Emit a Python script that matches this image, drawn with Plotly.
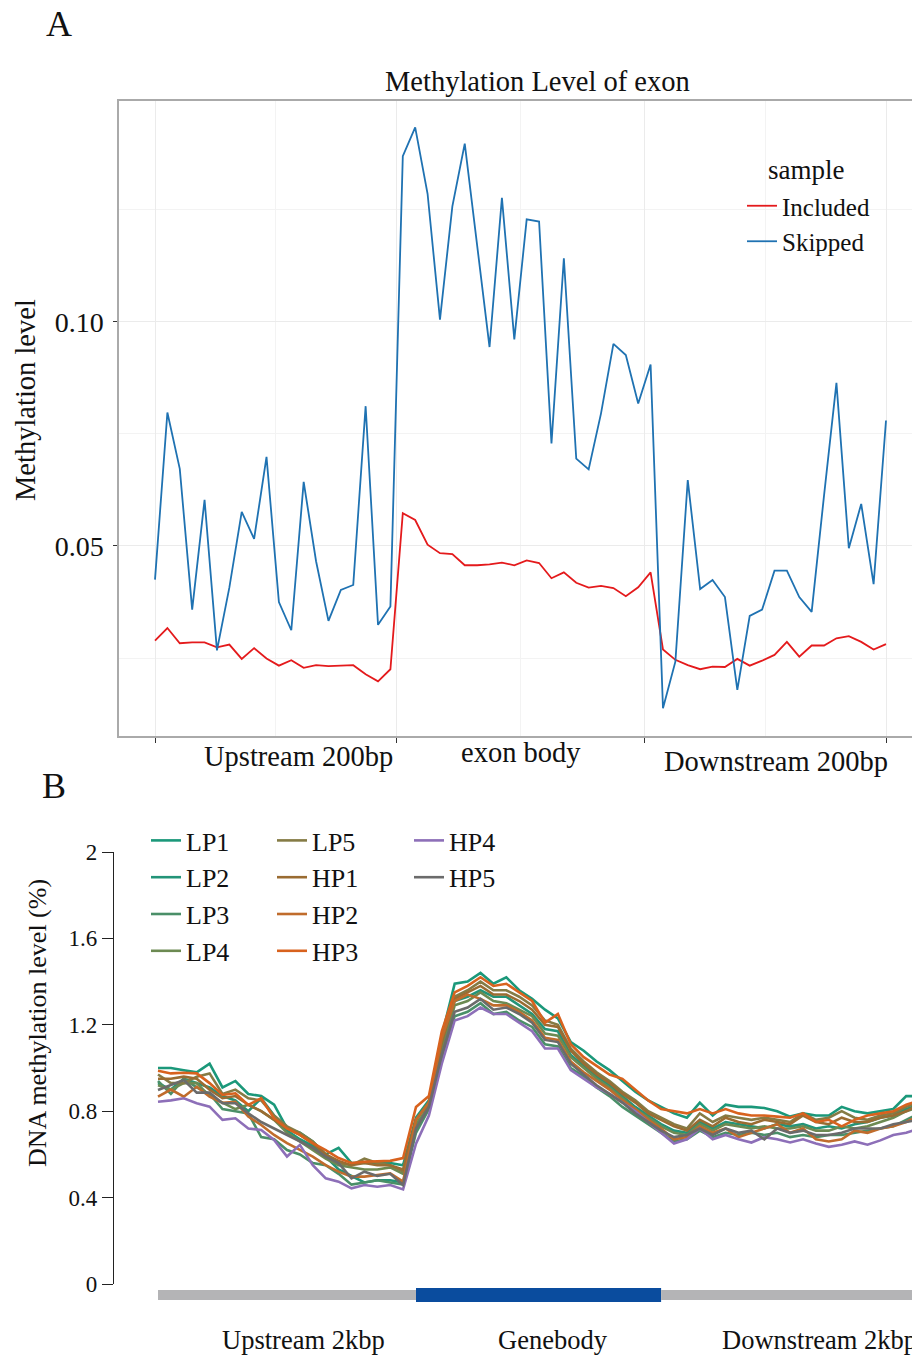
import plotly.graph_objects as go

# ---------------- Panel A data ----------------
bins_a = list(range(60))
included = [0.0289, 0.0317, 0.0283, 0.0285, 0.0285, 0.0274, 0.0280, 0.0248, 0.0272, 0.0249,
            0.0233, 0.0245, 0.0228, 0.0234, 0.0232, 0.0233, 0.0234, 0.0214, 0.0198, 0.0225,
            0.0573, 0.0558, 0.0503, 0.0484, 0.0482, 0.0457, 0.0457, 0.0459, 0.0463, 0.0457,
            0.0468, 0.0462, 0.0428, 0.0441, 0.0418, 0.0407, 0.0411, 0.0406, 0.0388, 0.0408,
            0.0441, 0.0269, 0.0246, 0.0234, 0.0225, 0.0231, 0.0230, 0.0248, 0.0233, 0.0244,
            0.0257, 0.0286, 0.0253, 0.0278, 0.0278, 0.0294, 0.0299, 0.0286, 0.0269, 0.0281]
skipped = [0.0425, 0.0798, 0.0672, 0.0358, 0.0603, 0.0267, 0.0407, 0.0576, 0.0516, 0.0699,
           0.0375, 0.0312, 0.0643, 0.0466, 0.0333, 0.0402, 0.0413, 0.0812, 0.0324, 0.0365,
           0.1370, 0.1434, 0.1286, 0.1005, 0.1258, 0.1398, 0.1171, 0.0944, 0.1277, 0.0961,
           0.1229, 0.1224, 0.0729, 0.1142, 0.0695, 0.0671, 0.0796, 0.0951, 0.0926, 0.0818,
           0.0905, 0.0138, 0.0242, 0.0647, 0.0404, 0.0424, 0.0386, 0.0179, 0.0344, 0.0358,
           0.0445, 0.0445, 0.0386, 0.0353, 0.0613, 0.0864, 0.0495, 0.0594, 0.0415, 0.0780]
a_region_ticks = [0, 19.5, 39.5, 59]
a_region_mid = [9.75, 29.5, 49.25]
a_region_labels = ["Upstream 200bp", "exon body", "Downstream 200bp"]
a_yticks = [0.05, 0.10]
a_yticklabels = ["0.05", "0.10"]
a_yminor = [0.025, 0.075, 0.125]

# ---------------- Panel B data ----------------
bins_b = list(range(60))
LP1 = [1.00, 1.00, 0.99, 0.98, 1.02, 0.91, 0.94, 0.88, 0.87, 0.83, 0.72, 0.70, 0.66, 0.60, 0.63, 0.56, 0.56, 0.56, 0.56, 0.55,
       0.77, 0.85, 1.15, 1.39, 1.40, 1.44, 1.39, 1.42, 1.36, 1.32, 1.27, 1.23, 1.12, 1.08, 1.03, 0.99, 0.94, 0.89, 0.85, 0.82,
       0.79, 0.77, 0.84, 0.78, 0.83, 0.82, 0.82, 0.815, 0.80, 0.775, 0.79, 0.78, 0.78, 0.82, 0.80, 0.79, 0.80, 0.81, 0.87, 0.87]
LP2 = [0.93, 0.90, 0.95, 0.93, 0.91, 0.87, 0.85, 0.80, 0.86, 0.78, 0.71, 0.67, 0.64, 0.59, 0.53, 0.50, 0.47, 0.48, 0.48, 0.47,
       0.72, 0.83, 1.10, 1.31, 1.33, 1.36, 1.33, 1.33, 1.29, 1.25, 1.18, 1.17, 1.06, 1.01, 0.96, 0.92, 0.87, 0.82, 0.78, 0.74,
       0.71, 0.70, 0.75, 0.72, 0.75, 0.74, 0.73, 0.72, 0.74, 0.73, 0.74, 0.72, 0.73, 0.72, 0.74, 0.75, 0.77, 0.78, 0.81, 0.83]
LP3 = [0.94, 0.88, 0.95, 0.91, 0.88, 0.81, 0.80, 0.79, 0.68, 0.67, 0.62, 0.60, 0.56, 0.55, 0.51, 0.46, 0.47, 0.48, 0.47, 0.46,
       0.70, 0.81, 1.05, 1.24, 1.26, 1.30, 1.25, 1.26, 1.22, 1.19, 1.11, 1.10, 1.00, 0.96, 0.91, 0.87, 0.82, 0.78, 0.74, 0.70,
       0.66, 0.67, 0.71, 0.68, 0.70, 0.69, 0.70, 0.69, 0.70, 0.68, 0.69, 0.68, 0.69, 0.69, 0.70, 0.71, 0.72, 0.73, 0.76, 0.79]
LP4 = [0.92, 0.90, 0.93, 0.93, 0.87, 0.84, 0.81, 0.83, 0.80, 0.76, 0.70, 0.66, 0.62, 0.58, 0.55, 0.54, 0.53, 0.53, 0.54, 0.51,
       0.74, 0.82, 1.08, 1.29, 1.31, 1.35, 1.31, 1.30, 1.27, 1.24, 1.16, 1.15, 1.05, 1.00, 0.95, 0.91, 0.86, 0.81, 0.77, 0.73,
       0.70, 0.69, 0.74, 0.71, 0.74, 0.73, 0.72, 0.73, 0.72, 0.72, 0.73, 0.71, 0.71, 0.73, 0.72, 0.73, 0.75, 0.77, 0.80, 0.82]
LP5 = [0.97, 0.93, 0.93, 0.96, 0.975, 0.88, 0.90, 0.86, 0.85, 0.78, 0.73, 0.70, 0.66, 0.60, 0.56, 0.55, 0.58, 0.56, 0.55, 0.52,
       0.76, 0.84, 1.12, 1.33, 1.36, 1.40, 1.36, 1.36, 1.33, 1.29, 1.22, 1.20, 1.09, 1.03, 0.98, 0.94, 0.89, 0.85, 0.80, 0.77,
       0.74, 0.72, 0.79, 0.75, 0.78, 0.77, 0.76, 0.77, 0.76, 0.75, 0.79, 0.76, 0.77, 0.80, 0.77, 0.76, 0.78, 0.79, 0.82, 0.84]
HP1 = [0.95, 0.95, 0.96, 0.95, 0.90, 0.86, 0.87, 0.83, 0.80, 0.76, 0.72, 0.69, 0.65, 0.60, 0.57, 0.55, 0.56, 0.55, 0.55, 0.53,
       0.76, 0.84, 1.12, 1.32, 1.35, 1.38, 1.34, 1.34, 1.31, 1.27, 1.20, 1.19, 1.08, 1.02, 0.97, 0.93, 0.88, 0.84, 0.79, 0.76,
       0.73, 0.71, 0.76, 0.73, 0.77, 0.75, 0.74, 0.76, 0.75, 0.74, 0.78, 0.75, 0.74, 0.77, 0.75, 0.75, 0.77, 0.78, 0.80, 0.83]
HP2 = [0.867, 0.90, 0.867, 0.913, 0.867, 0.839, 0.843, 0.775, 0.736, 0.69, 0.652, 0.62, 0.59, 0.55, 0.52, 0.497, 0.497, 0.505, 0.512, 0.474,
       0.76, 0.84, 1.14, 1.31, 1.34, 1.32, 1.29, 1.29, 1.26, 1.22, 1.14, 1.13, 1.03, 0.98, 0.94, 0.90, 0.85, 0.81, 0.76, 0.72,
       0.67, 0.68, 0.73, 0.70, 0.72, 0.68, 0.70, 0.72, 0.74, 0.70, 0.72, 0.67, 0.66, 0.67, 0.71, 0.70, 0.72, 0.73, 0.75, 0.78]
HP3 = [0.987, 0.975, 0.978, 0.975, 0.93, 0.875, 0.883, 0.829, 0.86, 0.767, 0.72, 0.69, 0.652, 0.62, 0.583, 0.56, 0.566, 0.568, 0.57, 0.583,
       0.82, 0.87, 1.17, 1.35, 1.38, 1.42, 1.38, 1.39, 1.35, 1.31, 1.21, 1.25, 1.11, 1.05, 1.01, 0.97, 0.95, 0.90, 0.85, 0.81,
       0.80, 0.79, 0.81, 0.79, 0.81, 0.79, 0.78, 0.78, 0.775, 0.77, 0.79, 0.75, 0.76, 0.73, 0.76, 0.78, 0.79, 0.80, 0.83, 0.85]
HP4 = [0.844, 0.85, 0.86, 0.837, 0.821, 0.76, 0.767, 0.72, 0.713, 0.667, 0.59, 0.644, 0.55, 0.489, 0.474, 0.443, 0.458, 0.45, 0.458, 0.438,
       0.65, 0.78, 1.02, 1.22, 1.24, 1.28, 1.25, 1.25, 1.21, 1.17, 1.09, 1.09, 0.99, 0.95, 0.91, 0.88, 0.84, 0.80, 0.75, 0.70,
       0.65, 0.67, 0.72, 0.67, 0.69, 0.67, 0.655, 0.68, 0.67, 0.655, 0.67, 0.65, 0.635, 0.645, 0.66, 0.645, 0.665, 0.69, 0.70, 0.72]
HP5 = [0.898, 0.921, 0.944, 0.886, 0.886, 0.837, 0.837, 0.79, 0.75, 0.72, 0.69, 0.66, 0.63, 0.59, 0.56, 0.489, 0.52, 0.50, 0.51, 0.458,
       0.72, 0.82, 1.06, 1.26, 1.28, 1.32, 1.27, 1.28, 1.25, 1.21, 1.13, 1.12, 1.02, 0.97, 0.92, 0.88, 0.84, 0.79, 0.75, 0.71,
       0.68, 0.69, 0.72, 0.69, 0.72, 0.70, 0.71, 0.67, 0.72, 0.70, 0.71, 0.69, 0.69, 0.70, 0.72, 0.72, 0.72, 0.74, 0.75, 0.76]

b_names = ["LP1", "LP2", "LP3", "LP4", "LP5", "HP1", "HP2", "HP3", "HP4", "HP5"]
b_series = [LP1, LP2, LP3, LP4, LP5, HP1, HP2, HP3, HP4, HP5]
b_colors = ["#1b987a", "#239478", "#4a8f68", "#6c8a52", "#857b45", "#9a6c32", "#c06c2c", "#d8621e", "#8d6fb8", "#6b6b6b"]
b_legend_cols = ["legend2"] * 4 + ["legend3"] * 4 + ["legend4"] * 2
b_yticks = [0, 0.4, 0.8, 1.2, 1.6, 2]
b_yticklabels = ["0", "0.4", "0.8", "1.2", "1.6", "2"]
b_regions = [(0, 20, "#b4b4b6"), (20, 39, "#0a4c9e"), (39, 59, "#b4b4b6")]
b_region_labels = ["Upstream 2kbp", "Genebody", "Downstream 2kbp"]

FONT = "Liberation Serif, Times New Roman, serif"
W, H = 912, 1356

def px(xp):
    return xp / W

def py(yp):
    return (H - yp) / H

fig = go.Figure()

fig.add_trace(go.Scatter(x=bins_a, y=included, mode="lines", name="Included",
                         line=dict(color="#e41a1c", width=1.8), xaxis="x", yaxis="y", legend="legend"))
fig.add_trace(go.Scatter(x=bins_a, y=skipped, mode="lines", name="Skipped",
                         line=dict(color="#1f72b2", width=1.8), xaxis="x", yaxis="y", legend="legend"))

for name, vals, col, lg in zip(b_names, b_series, b_colors, b_legend_cols):
    fig.add_trace(go.Scatter(x=bins_b, y=vals, mode="lines", name=name,
                             line=dict(color=col, width=2.6), xaxis="x2", yaxis="y2", legend=lg))

# x axis ranges from pixel geometry
a_step = (886 - 155) / 59.0
a_xr = [0 - (155 - 119) / a_step, 59 + (912 - 886) / a_step]
b_step = 12.9
b_xr = [0 - (158 - 114) / b_step, (912 - 158) / b_step]

fig.update_layout(
    template="none",
    width=W, height=H, margin=dict(l=0, r=0, t=0, b=0, pad=0, autoexpand=False),
    paper_bgcolor="white", plot_bgcolor="white",
    font=dict(family=FONT, color="#111111"),
    xaxis=dict(domain=[px(119), 1], range=a_xr, anchor="y", automargin=False,
               tickvals=a_region_ticks, showticklabels=False, ticks="outside", ticklen=5,
               tickcolor="#333333", showgrid=True, gridcolor="#ebebeb", gridwidth=1,
               minor=dict(tickvals=a_region_mid, showgrid=True, gridcolor="#f3f3f3", ticks=""),
               showline=True, linecolor="#aaaaaa", linewidth=1.5, mirror=True, zeroline=False),
    yaxis=dict(domain=[py(736), py(101)], range=[0.0076, 0.1493], anchor="x", automargin=False,
               tickvals=a_yticks, ticktext=a_yticklabels, ticks="outside", ticklen=4,
               tickcolor="#333333", tickfont=dict(size=28, family=FONT, color="#111111"),
               ticklabelstandoff=4,
               showgrid=True, gridcolor="#ebebeb", gridwidth=1,
               minor=dict(tickvals=a_yminor, showgrid=True, gridcolor="#f3f3f3", ticks=""),
               showline=True, linecolor="#aaaaaa", linewidth=1.5, mirror=False, zeroline=False),
    xaxis2=dict(domain=[px(114), 1], range=b_xr, anchor="y2", visible=False, automargin=False),
    yaxis2=dict(domain=[py(1284), py(852)], range=[0, 2], anchor="x2", automargin=False,
                tickvals=b_yticks, ticktext=b_yticklabels, ticks="outside", ticklen=11,
                tickcolor="#222222", tickfont=dict(size=23, family=FONT, color="#111111"),
                showgrid=False, showline=True, linecolor="#222222", linewidth=1.2, zeroline=False),
    legend=dict(x=px(742), y=py(183), xanchor="left", yanchor="top", bgcolor="rgba(0,0,0,0)",
                font=dict(size=25, family=FONT), itemwidth=30),
    legend2=dict(x=px(146), y=py(817), xanchor="left", yanchor="top", bgcolor="rgba(0,0,0,0)",
                 font=dict(size=26, family=FONT), itemwidth=30),
    legend3=dict(x=px(272), y=py(817), xanchor="left", yanchor="top", bgcolor="rgba(0,0,0,0)",
                 font=dict(size=26, family=FONT), itemwidth=30),
    legend4=dict(x=px(409), y=py(817), xanchor="left", yanchor="top", bgcolor="rgba(0,0,0,0)",
                 font=dict(size=26, family=FONT), itemwidth=30),
)

shapes = []
for (x0, x1, col) in b_regions:
    thick = 14 if col == "#0a4c9e" else 10
    shapes.append(dict(type="rect", xref="x2", yref="paper", x0=x0, x1=x1,
                       y0=py(1295 + thick / 2), y1=py(1295 - thick / 2),
                       fillcolor=col, line=dict(width=0), layer="above"))
fig.update_layout(shapes=shapes)

ann = []
ann.append(dict(text="A", x=px(44), y=py(24), xref="paper", yref="paper", xanchor="left", yanchor="middle",
                showarrow=False, font=dict(size=36, family=FONT, color="#111111")))
ann.append(dict(text="B", x=px(40), y=py(786), xref="paper", yref="paper", xanchor="left", yanchor="middle",
                showarrow=False, font=dict(size=36, family=FONT, color="#111111")))
ann.append(dict(text="Methylation Level of exon", x=px(537), y=py(81), xref="paper", yref="paper",
                xanchor="center", yanchor="middle", showarrow=False,
                font=dict(size=28.5, family=FONT, color="#111111")))
ann.append(dict(text="sample", x=px(766), y=py(170), xref="paper", yref="paper",
                xanchor="left", yanchor="middle", showarrow=False,
                font=dict(size=27, family=FONT, color="#111111")))
ann.append(dict(text="Methylation level", x=px(25), y=py(400), xref="paper", yref="paper",
                xanchor="center", yanchor="middle", textangle=-90, showarrow=False,
                font=dict(size=28.5, family=FONT, color="#111111")))
for lab, xc, yc in zip(a_region_labels, [298, 521, 776], [756, 753, 761]):
    ann.append(dict(text=lab, x=px(xc), y=py(yc), xref="paper", yref="paper",
                    xanchor="center", yanchor="middle", showarrow=False,
                    font=dict(size=28.5, family=FONT, color="#111111")))
ann.append(dict(text="DNA methylation level (%)", x=px(37), y=py(1023), xref="paper", yref="paper",
                xanchor="center", yanchor="middle", textangle=-90, showarrow=False,
                font=dict(size=26, family=FONT, color="#111111")))
for lab, xc, anc in zip(b_region_labels, [303, 553, 720], ["center", "center", "left"]):
    ann.append(dict(text=lab, x=px(xc), y=py(1340), xref="paper", yref="paper",
                    xanchor=anc, yanchor="middle", showarrow=False,
                    font=dict(size=26.5, family=FONT, color="#111111")))
fig.update_layout(annotations=ann)

post = ("document.documentElement.style.margin='0px';document.body.style.margin='0px';"
        "document.body.style.overflow='hidden';document.documentElement.style.overflow='hidden';"
        "var d=document.getElementsByClassName('plotly-graph-div')[0];"
        "d.style.position='fixed';d.style.top='0px';d.style.left='0px';")
fig.write_html("out.html", config={"displayModeBar": False}, post_script=post)
